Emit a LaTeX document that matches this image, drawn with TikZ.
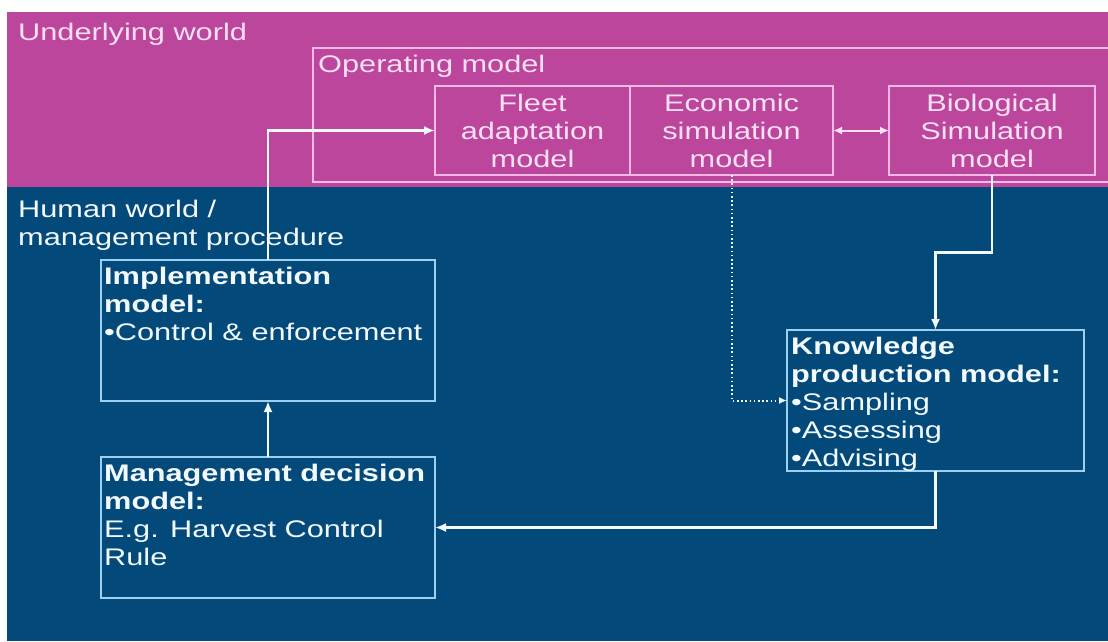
\documentclass[tikz,border=0pt]{standalone}
\usepackage{fontspec}
\usetikzlibrary{arrows.meta,positioning,calc}
\newfontfamily\slidefont{Liberation Sans}[FakeStretch=1.28]
\definecolor{slidemagenta}{HTML}{BD469D}
\definecolor{slideblue}{HTML}{03497A}
\definecolor{pinkline}{HTML}{F2B8E6}
\definecolor{pinktext}{HTML}{F9E0F4}
\definecolor{blueline}{HTML}{9CCFF0}
\definecolor{bluetext}{HTML}{F2F9FF}

\begin{document}
\begin{tikzpicture}[
  x=1pt, y=-1pt,
  font=\slidefont\fontsize{24}{28}\selectfont,
  ombox/.style={rectangle, draw=pinkline, line width=1.6pt, text=pinktext, align=center, outer sep=0pt, inner sep=0pt, minimum height=89pt},
  mpbox/.style={rectangle, draw=blueline, line width=1.6pt, outer sep=0pt, inner sep=0pt, minimum width=334pt, minimum height=141pt},
  boxtext/.style={anchor=north west, text=bluetext, align=left, inner xsep=3pt, inner ysep=7pt},
  flow/.style={-{Latex[length=11pt,width=9pt]}, line width=2.6pt, draw=bluetext},
  twoway/.style={{Latex[length=9pt,width=8pt]}-{Latex[length=9pt,width=8pt]}, line width=2pt, draw=pinktext},
  hint/.style={-{Latex[length=8pt,width=7pt]}, line width=2pt, draw=bluetext, dash pattern=on 1.6pt off 2.6pt}
]
% background bands
\fill[white] (0,0) rectangle (1108,641);
\fill[slidemagenta] (7,12) rectangle (1108,187);
\fill[slideblue] (7,187) rectangle (1108,641);
\useasboundingbox (0,0) rectangle (1108,641);

\node[anchor=base west, inner sep=0pt, text=pinktext] (under) at (18,40) {Underlying world};
\node[anchor=north west, inner sep=0pt, text=bluetext, align=left] (human) at (18,199.5) {Human world /\\management procedure};

% operating model frame
\draw[pinkline, line width=1.6pt] (1108,48) -| (313,182) -- (1108,182);
\node[anchor=base west, inner sep=0pt, text=pinktext] (opm) at (318,72) {Operating model};

\node[ombox, minimum width=195pt] (fleet) at (532.5,130.5) {Fleet\\adaptation\\model};
\node[ombox, minimum width=203pt, right=0pt of fleet] (econ) {Economic\\simulation\\model};
\node[ombox, minimum width=206pt, right=56pt of econ] (bio) {Biological\\Simulation\\model};

% management procedure
\node[mpbox] (impl) at (268,330.5) {};
\node[mpbox, below=56pt of impl] (mgmt) {};
\node[mpbox, minimum width=297pt] (know) at (935.5,400.5) {};
\node[boxtext] (impltext) at (impl.north west) {\textbf{Implementation}\\\textbf{model:}\\•Control \& enforcement};
\node[boxtext] (mgmttext) at (mgmt.north west) {\textbf{Management decision}\\\textbf{model:}\\E.g. Harvest Control\\Rule};
\node[boxtext, inner xsep=4pt] (knowtext) at (know.north west) {\textbf{Knowledge}\\\textbf{production model:}\\•Sampling\\•Assessing\\•Advising};

\draw[twoway] (econ) -- (bio);
\draw[flow] (impl.north) |- (fleet.west);
\draw[flow] (mgmt.north) -- (impl.south);
\draw[flow] (bio.south) |- ($(bio.south)!.5!(know.north)$) -| (know.north);
\draw[flow] (know.south) |- (mgmt.east);
\draw[hint] (econ.south) |- (know.west);
\end{tikzpicture}
\end{document}
